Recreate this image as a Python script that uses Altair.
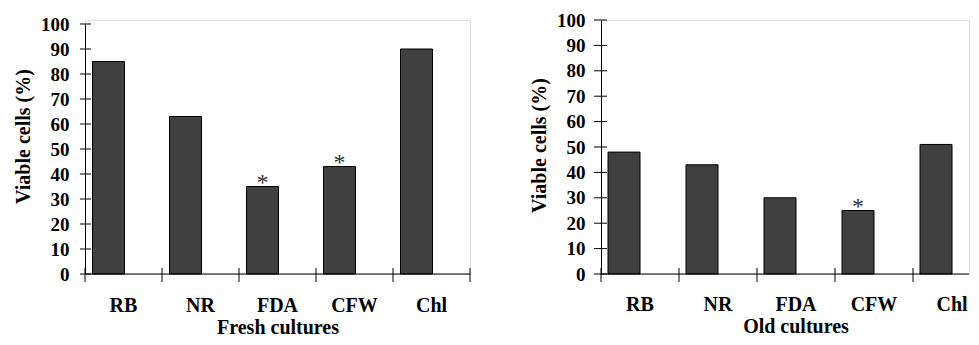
import altair as alt
import pandas as pd

cats = ["RB", "NR", "FDA", "CFW", "Chl"]
fresh = [85, 63, 35, 43, 90]
old = [48, 43, 30, 25, 51]
fresh_star = ["", "", "*", "*", ""]
old_star = ["", "", "", "*", ""]
y_ticks = list(range(0, 101, 10))

FONT = "Liberation Serif"
H = 254
LPAD = 21
TPAD = 2


def panel(values, stars, title, width, xrange, yrange, title_y, bar_offset, ytick, native_x):
    df = pd.DataFrame({"cat": cats, "v": values, "star": stars})
    tdf = pd.DataFrame({"t": y_ticks})
    yscale = alt.Scale(domain=[0, 100], range=yrange)
    xscale = alt.Scale(paddingInner=0, paddingOuter=0, range=xrange)
    if native_x:
        xaxis = alt.Axis(title=title, ticks=False, domain=False,
                         labelAngle=0, labelPadding=LPAD, labelFontSize=20,
                         labelFont=FONT, labelFontWeight="bold", labelColor="black",
                         titleFont=FONT, titleFontSize=20, titleFontWeight="bold",
                         titleColor="black", titlePadding=TPAD)
    else:
        xaxis = None
    yaxis = alt.Axis(title="Viable cells (%)", values=y_ticks, tickCount=11,
                     ticks=False, domain=True, domainColor="black", grid=False,
                     labelOverlap=False, labelPadding=16, labelFontSize=19,
                     labelFont=FONT, labelFontWeight="bold", labelColor="black",
                     titleFont=FONT, titleFontSize=20, titleFontWeight="bold",
                     titleColor="black", titlePadding=7, titleY=title_y)
    xenc = alt.X("cat:N", sort=cats, scale=xscale, axis=xaxis, title=title)
    yenc = alt.Y("v:Q", scale=yscale, axis=yaxis, title="Viable cells (%)")
    bars = alt.Chart(df).mark_bar(color="#404040", stroke="black", strokeWidth=1,
                                  width=32, xOffset=bar_offset).encode(x=xenc, y=yenc)
    star = alt.Chart(df).mark_text(font=FONT, fontSize=24, color="#333333",
                                   baseline="alphabetic", dy=3, xOffset=bar_offset).encode(
        x=xenc, y=yenc, text="star:N")
    xdom = alt.Chart(df.head(1)).mark_rule(color="black").encode(
        x=alt.value(0), x2=alt.value(width), y=alt.value(H))
    xt = alt.Chart(df).mark_rule(color="black").encode(
        x=alt.X("cat:N", sort=cats, scale=xscale, axis=xaxis, title=title, bandPosition=0),
        y=alt.value(H - 6), y2=alt.value(H + 8))
    yt = alt.Chart(tdf).mark_rule(color="black").encode(
        y=alt.Y("t:Q", scale=yscale, axis=yaxis, title="Viable cells (%)"),
        x=alt.value(ytick[0]), x2=alt.value(ytick[1]))
    layers = [bars, star, xdom, xt, yt]
    if native_x:
        layers.append(alt.Chart(df.head(1)).mark_rule(color="black").encode(
            x=alt.value(width), y=alt.value(H - 6), y2=alt.value(H + 8)))
    else:
        labels = alt.Chart(df).mark_text(font=FONT, fontSize=20, fontWeight="bold",
                                         color="black", baseline="top").encode(
            x=xenc, y=alt.value(H + LPAD), text="cat:N")
        ttl = alt.Chart(pd.DataFrame({"t": [title]})).mark_text(
            font=FONT, fontSize=20, fontWeight="bold", color="black", baseline="top").encode(
            x=alt.value(xrange[1] / 2), y=alt.value(H + LPAD + 20 + TPAD), text="t:N")
        layers += [labels, ttl]
    return alt.layer(*layers).properties(width=width, height=H)


left = panel(fresh, fresh_star, "Fresh cultures", 385, [0, 385], [H, 4], 116, -15, (-5, 6), True)
right = panel(old, old_star, "Old cultures", 368, [0, 390], [H, 0], 125, -16, (-7, 6), False)

chart = alt.hconcat(left, right, spacing=58).resolve_scale(
    y="independent", x="independent"
).properties(
    padding={"left": 5, "top": 2, "right": 0, "bottom": 0}
).configure_view(strokeWidth=0).configure(background="white")

chart.save("out.html", embed_options={"renderer": "svg", "actions": False})
